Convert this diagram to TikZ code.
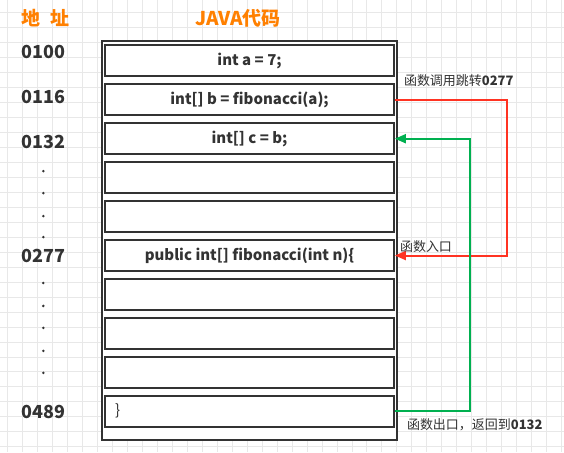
\documentclass[tikz,border=0pt]{standalone}
\usepackage{fontspec}
\setmainfont{Noto Sans CJK SC}
\usetikzlibrary{arrows.meta, positioning, calc}
\definecolor{gridgray}{RGB}{232, 232, 232}
\definecolor{inkgray}{RGB}{51, 51, 51}
\definecolor{callred}{RGB}{255, 51, 34}
\definecolor{retgreen}{RGB}{0, 176, 80}
\definecolor{headorange}{RGB}{255, 128, 0}

\begin{document}
\begin{tikzpicture}[x=1pt, y=-1pt,
  cell/.style={draw=inkgray, line width=2.2pt, minimum width=289pt, minimum height=31pt, inner sep=0pt, text=inkgray, font=\bfseries\fontsize{15}{17}\selectfont},
  addr/.style={text=inkgray, inner sep=0pt, font=\bfseries\fontsize{18}{20}\selectfont},
  head/.style={text=headorange, inner sep=0pt, font=\bfseries\fontsize{19}{21}\selectfont},
  gap/.style={circle, fill=inkgray, inner sep=0pt, minimum size=2.8pt},
  note/.style={anchor=west, text=inkgray, inner sep=0pt, font=\fontsize{13}{15}\selectfont},
  jump/.style={line width=2pt, -{Triangle[length=11pt, width=9pt]}}]

  % background grid
  \fill[white] (0,0) rectangle (564,452);
  \foreach \gx in {7,22,...,562} \draw[gridgray, line width=0.8pt] (\gx,0) -- (\gx,452);
  \foreach \gy in {12,27,...,447} \draw[gridgray, line width=0.8pt] (0,\gy) -- (564,\gy);

  \node[head] (addrhead) at (45,18) {地\hspace{0.55em}址};
  \node[head] (codehead) at (238,18) {JAVA代码};

  \node[draw=inkgray, line width=2.2pt, fill=white, minimum width=295pt, minimum height=399pt] (frame) at (249.5,240.5) {};

  \node[cell] (b1) at (249.5,60.5) {int a = 7;};
  \node[cell] (b2) at (249.5,99.5) {int[] b = fibonacci(a);};
  \node[cell] (b3) at (249.5,138.5) {int[] c = b;};
  \node[cell] (b4) at (249.5,177.5) {};
  \node[cell] (b5) at (249.5,216.5) {};
  \node[cell] (b6) at (249.5,255.5) {public int[] fibonacci(int n)\{};
  \node[cell] (b7) at (249.5,294.5) {};
  \node[cell] (b8) at (249.5,333.5) {};
  \node[cell] (b9) at (249.5,372.5) {};
  \node[cell, inner xsep=10pt, text width=269pt, align=left, font=\fontsize{15}{17}\selectfont] (b10) at (249.5,411.5) {\}};

  \node[addr] (a0100) at (43,52) {0100};
  \node[addr] (a0116) at (43,97) {0116};
  \node[addr] (a0132) at (43,142) {0132};
  \node[addr] (a0277) at (43,255.5) {0277};
  \node[addr] (a0489) at (43,412) {0489};
  \foreach \dy in {171,193,216,237,283,306,328,351,373}
    \node[gap] at (43,\dy) {};

  \draw[jump, callred] (b2.east) -- ++(112,0) |- (b6.east);
  \draw[jump, retgreen] (b10.east) -- ++(75,0) |- (b3.east);

  \node[note] (calllabel) at (404,80) {函数调用跳转\textbf{0277}};
  \node[note] (entrylabel) at (400,247) {函数入口};
  \node[note] (exitlabel) at (407,425) {函数出口，返回到\textbf{0132}};
\end{tikzpicture}
\end{document}
